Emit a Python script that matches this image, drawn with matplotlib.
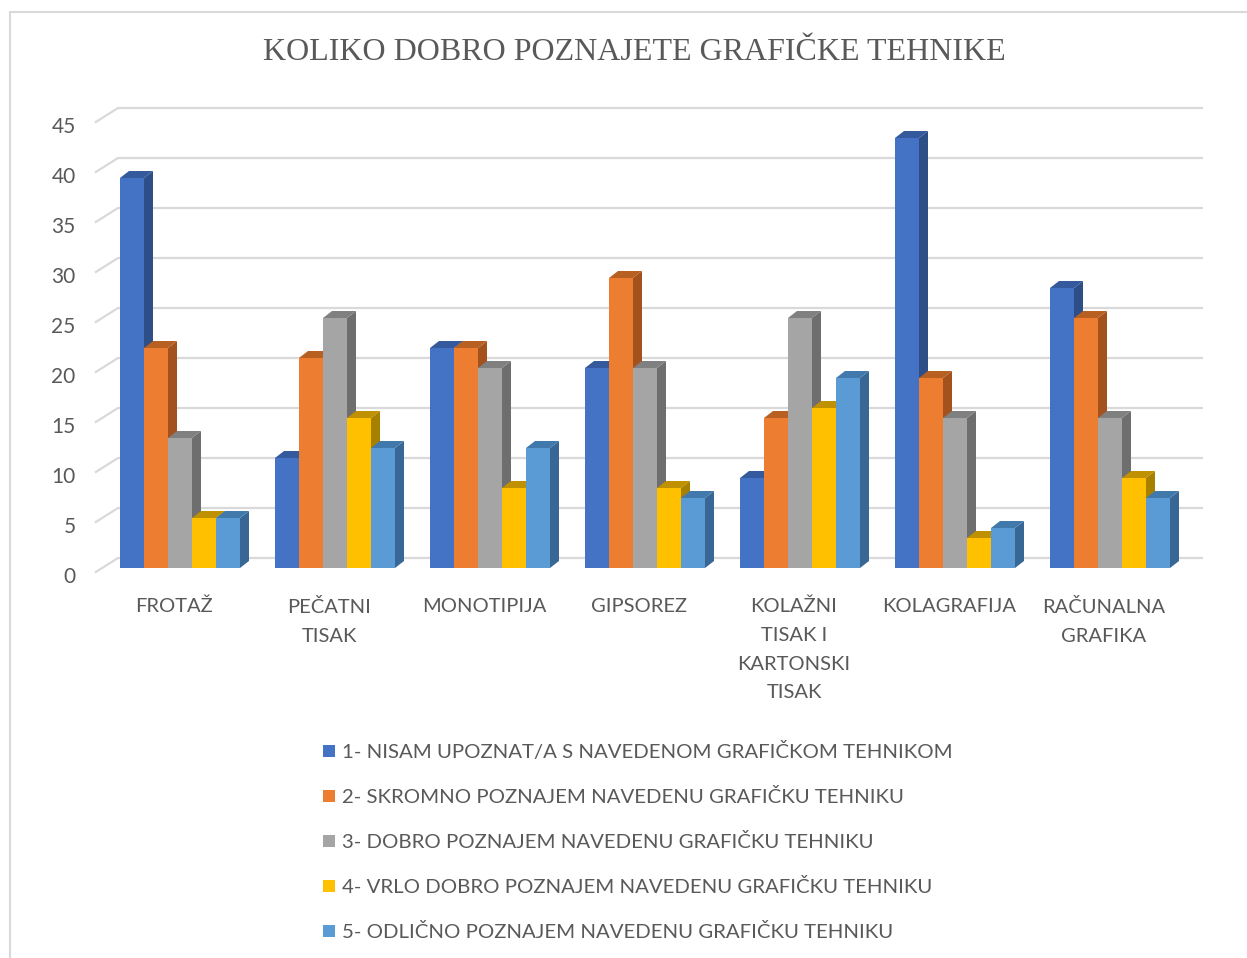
import matplotlib
matplotlib.use("Agg")
import matplotlib.pyplot as plt
from matplotlib.patches import Polygon, Patch, Rectangle
from matplotlib.transforms import ScaledTranslation, blended_transform_factory

categories = ["FROTAŽ", "PEČATNI\nTISAK", "MONOTIPIJA", "GIPSOREZ",
              "KOLAŽNI\nTISAK I\nKARTONSKI\nTISAK", "KOLAGRAFIJA", "RAČUNALNA\nGRAFIKA"]
series_names = [
    "1- NISAM UPOZNAT/A S NAVEDENOM GRAFIČKOM TEHNIKOM",
    "2- SKROMNO POZNAJEM NAVEDENU GRAFIČKU TEHNIKU",
    "3- DOBRO POZNAJEM NAVEDENU GRAFIČKU TEHNIKU",
    "4- VRLO DOBRO POZNAJEM NAVEDENU GRAFIČKU TEHNIKU",
    "5- ODLIČNO POZNAJEM NAVEDENU GRAFIČKU TEHNIKU",
]
s1 = [39, 11, 22, 20, 9, 43, 28]
s2 = [22, 21, 22, 29, 15, 19, 25]
s3 = [13, 25, 20, 20, 25, 15, 15]
s4 = [5, 15, 8, 8, 16, 3, 9]
s5 = [5, 12, 12, 7, 19, 4, 7]
series = [s1, s2, s3, s4, s5]
yticks = [0, 5, 10, 15, 20, 25, 30, 35, 40, 45]

front_cols = ["#4472C4", "#ED7D31", "#A5A5A5", "#FFC000", "#5B9BD5"]
side_cols = ["#2E4E88", "#A3521D", "#6E6E6E", "#A88000", "#386795"]
top_cols = ["#34599C", "#B85F22", "#808080", "#BF9000", "#4179AD"]

W, H = 1247, 958
fig = plt.figure(figsize=(W / 100, H / 100), dpi=100)
fig.patch.set_facecolor("white")

# axes area in pixels
L, R, T, B = 95, 1210, 100, 575
ax = fig.add_axes([L / W, 1 - B / H, (R - L) / W, (B - T) / H])
ax.set_xlim((L - 180) / 155, (R - 180) / 155)
ax.set_ylim((568 - B) / 10, (568 - T) / 10)
for sp in ax.spines.values():
    sp.set_visible(False)
ax.set_facecolor("none")

grid_col = "#D9D9D9"
xf, xb, xr = (95 - 180) / 155, (118 - 180) / 155, (1203 - 180) / 155
for v in yticks:
    ax.plot([xf, xb, xr], [v - 0.45, v + 1.0, v + 1.0], color=grid_col, lw=1.6,
            zorder=1, solid_capstyle="butt", clip_on=False)

w = 24 / 155
ddx, ddy = 9 / 155, 0.7
n = len(series)
for j, vals in enumerate(series):
    xs = [i + (j - (n - 1) / 2) * w for i in range(len(categories))]
    ax.bar(xs, vals, width=w, color=front_cols[j], zorder=4 + 2 * j, linewidth=0,
           label=series_names[j])
    for x, v in zip(xs, vals):
        xl, xr2 = x - w / 2, x + w / 2
        side = Polygon([(xr2, 0), (xr2 + ddx, ddy), (xr2 + ddx, v + ddy), (xr2, v)],
                       closed=True, facecolor=side_cols[j], edgecolor="none",
                       zorder=3 + 2 * j)
        top = Polygon([(xl, v), (xr2, v), (xr2 + ddx, v + ddy), (xl + ddx, v + ddy)],
                      closed=True, facecolor=top_cols[j], edgecolor="none",
                      zorder=3 + 2 * j)
        ax.add_patch(side)
        ax.add_patch(top)

txt_col = "#595959"
font = "Lato"
ax.set_yticks(yticks)
ax.set_yticklabels([str(t) for t in yticks], fontsize=15, color=txt_col, family=font)
ax.tick_params(axis="y", length=0, pad=14)
off = ScaledTranslation(0, -7 / 100, fig.dpi_scale_trans)
for lab in ax.get_yticklabels():
    lab.set_transform(lab.get_transform() + off)

# category labels
ax.set_xticks(range(len(categories)))
ax.set_xticklabels([""] * len(categories))
ax.tick_params(axis="x", length=0)
cat_trans = blended_transform_factory(ax.transData, ax.transAxes) + \
    ScaledTranslation(-6 / 100, -23 / 100, fig.dpi_scale_trans)
for i, c in enumerate(categories):
    ax.text(i, 0, c, transform=cat_trans, ha="center", va="top", fontsize=14.5,
            color=txt_col, family=font, linespacing=1.83, multialignment="center")

fig.text(634 / W, 1 - 53 / H, "KOLIKO DOBRO POZNAJETE GRAFIČKE TEHNIKE",
         family="Liberation Serif", fontsize=23, color=txt_col, ha="center", va="center")

handles = [Patch(facecolor=c, edgecolor="none") for c in front_cols]
leg = fig.legend(handles, series_names, loc="upper left",
                 bbox_to_anchor=(305 / W, 1 - 724 / H), frameon=False,
                 prop={"family": font, "size": 14.7}, labelcolor=txt_col,
                 handlelength=0.55, handleheight=0.55, handletextpad=0.35,
                 labelspacing=1.32)

fig.add_artist(Rectangle((10 / W, -0.05), 1.2, 1 - 12 / H + 0.05,
                         transform=fig.transFigure, fill=False,
                         edgecolor="#D9D9D9", lw=1.5))

fig.savefig("out.png", dpi=100)
